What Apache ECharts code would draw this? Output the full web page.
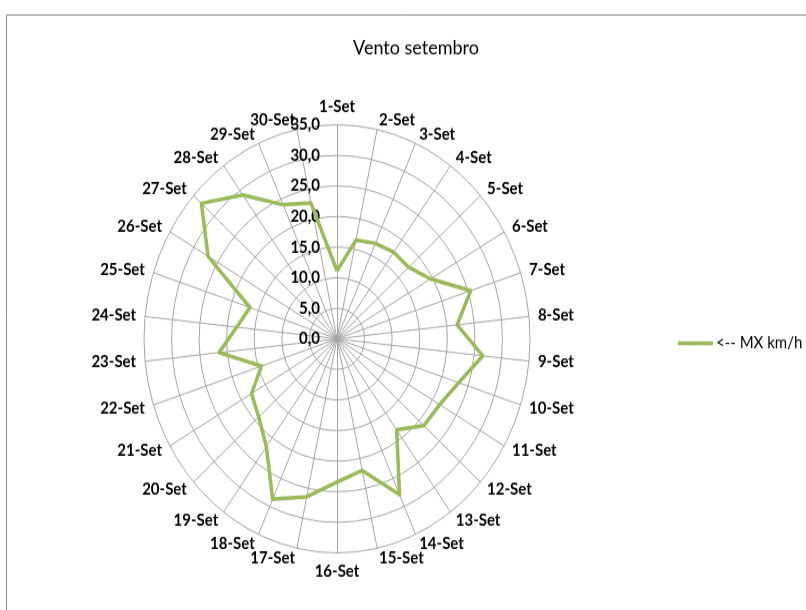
<!DOCTYPE html>
<html>
<head>
<meta charset="utf-8">
<script src="https://cdn.jsdelivr.net/npm/echarts@6/dist/echarts.min.js"></script>
<style>
  html, body { margin: 0; padding: 0; background: #fff; width: 806px; height: 610px; overflow: hidden; }
  #frame { position: relative; width: 806px; height: 610px; overflow: hidden; }
  /* chart is laid out at 806x550 and stretched vertically to fill the 610px frame */
  #chart { position: absolute; left: 0; top: 0; width: 806px; height: 550px;
           transform: scaleY(1.10909); transform-origin: 0 0; }
</style>
</head>
<body>
<div id="frame"><div id="chart"></div></div>
<script>
// Days of September (Portuguese short form)
const days = [
  '1-Set', '2-Set', '3-Set', '4-Set', '5-Set', '6-Set', '7-Set', '8-Set', '9-Set', '10-Set',
  '11-Set', '12-Set', '13-Set', '14-Set', '15-Set', '16-Set', '17-Set', '18-Set', '19-Set', '20-Set',
  '21-Set', '22-Set', '23-Set', '24-Set', '25-Set', '26-Set', '27-Set', '28-Set', '29-Set', '30-Set'
];

// Maximum wind speed per day, km/h
const mxKmh = [
  11.1, 16.5, 17.1, 17.5, 17.5, 19.6, 25.5, 21.9, 26.6, 23.2,
  21.5, 21.2, 18.4, 27.9, 22.0, 23.4, 26.4, 28.7, 21.8, 19.1,
  17.9, 14.4, 21.5, 18.3, 16.6, 27.0, 33.1, 29.1, 24.0, 22.7
];

// Radial scale: 0,0 .. 35,0 in steps of 5
const scaleMin = 0;
const scaleMax = 35;
const scaleSteps = 7;

const seriesName = '<-- MX km/h';
const titleText = 'Vento setembro';

const gridColor = '#a6a6a6';
const lineColor = '#9bbb59';
const fontFamily = 'Lato, "Noto Sans", sans-serif';

// ECharts lays radar axes out counter-clockwise; feed the days in
// reverse after the first so that they run clockwise from the top.
const order = [0].concat(days.map((_, i) => i).slice(1).reverse());
const orderedDays = order.map(i => days[i]);
const orderedValues = order.map(i => mxKmh[i]);

const chart = echarts.init(document.getElementById('chart'));

chart.setOption({
  animation: false,
  backgroundColor: '#fff',
  title: {
    text: titleText,
    left: 411,
    textAlign: 'center',
    top: 29,
    textStyle: { fontFamily, fontSize: 18, fontWeight: 'normal', color: '#000' }
  },
  legend: {
    orient: 'vertical',
    left: 673,
    top: 297,
    icon: 'rect',
    itemWidth: 35,
    itemHeight: 3.5,
    itemGap: 4,
    textStyle: { fontFamily, fontSize: 15, color: '#000', padding: [0, 0, 0, -2] },
    data: [seriesName]
  },
  graphic: [{
    type: 'rect',
    silent: true,
    shape: { x: 6.5, y: 13.5, width: 900, height: 900 },
    style: { fill: 'none', stroke: '#8c8c8c', lineWidth: 1 }
  }],
  radar: {
    center: [337, 305.5],
    radius: 193,
    shape: 'circle',
    startAngle: 90,
    splitNumber: scaleSteps,
    nameGap: 9,
    axisName: { color: '#000', fontFamily, fontSize: 15, fontWeight: 'bold' },
    indicator: orderedDays.map((d, i) => i === 0
      ? { name: d, min: scaleMin, max: scaleMax, axisLabel: { show: true } }
      : { name: d, min: scaleMin, max: scaleMax }),
    axisLabel: {
      show: false,
      color: '#000',
      fontFamily,
      fontSize: 15,
      fontWeight: 'bold',
      margin: 17,
      formatter: v => v.toFixed(1).replace('.', ',')
    },
    axisTick: { show: false },
    axisLine: { lineStyle: { color: gridColor, width: 1 } },
    splitLine: { lineStyle: { color: gridColor, width: 1 } },
    splitArea: { show: false }
  },
  series: [{
    type: 'radar',
    name: seriesName,
    symbol: 'none',
    lineStyle: { color: lineColor, width: 3.5 },
    itemStyle: { color: lineColor },
    data: [{ name: seriesName, value: orderedValues }]
  }]
});
</script>
</body>
</html>
